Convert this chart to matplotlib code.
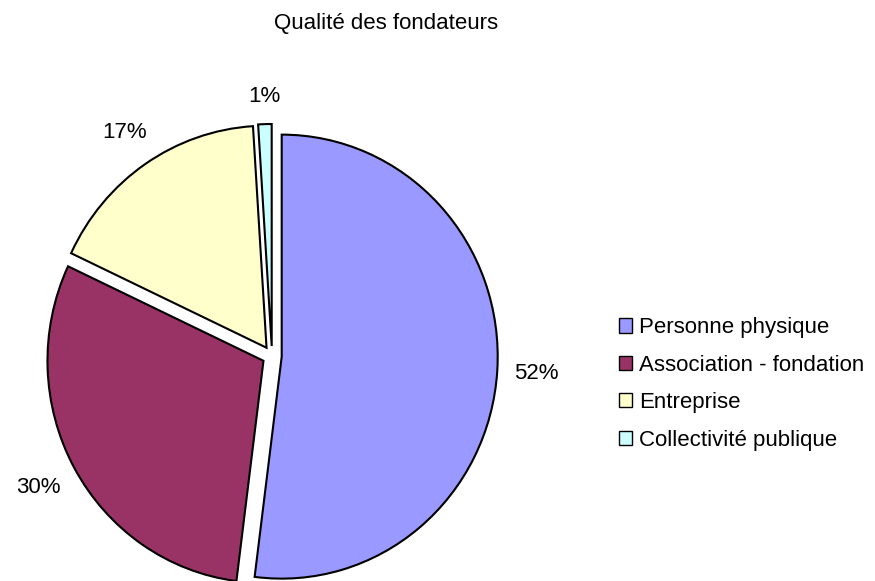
import matplotlib
matplotlib.use("Agg")
import numpy as np
import matplotlib.pyplot as plt
from matplotlib.patches import Patch

plt.rcParams['font.family'] = ['Liberation Sans', 'DejaVu Sans']

categories = ["Personne physique", "Association - fondation", "Entreprise", "Collectivité publique"]
values = [52, 30, 17, 1]
colors = ["#9999FF", "#993366", "#FFFFCC", "#CCFFFF"]
title = "Qualité des fondateurs"

FS = 16
fig = plt.figure(figsize=(8.75, 5.81), dpi=100)
W, H = 875, 581
cx, cy, rx, ry = 272, 356, 216, 222
lim = 1.3
ax = fig.add_axes([(cx - rx * lim) / W, (H - cy - ry * lim) / H,
                   2 * rx * lim / W, 2 * ry * lim / H])

wedges, texts, autotexts = ax.pie(
    values, colors=colors, startangle=90, counterclock=False,
    explode=[0.045] * len(values), autopct='%1.0f%%', pctdistance=1.2,
    wedgeprops=dict(edgecolor='black', linewidth=1.5),
    textprops=dict(fontsize=FS, color='black'))
ax.set_xlim(-lim, lim)
ax.set_ylim(-lim, lim)
ax.set_aspect('auto')
ax.set_axis_off()

# place percentage labels just outside each wedge, like the spreadsheet does
fig.canvas.draw()
renderer = fig.canvas.get_renderer()
gap = 1.075
for w, t in zip(wedges, autotexts):
    th = np.deg2rad((w.theta1 + w.theta2) / 2)
    bb = t.get_window_extent(renderer)
    hw = bb.width / 2 / rx
    hh = bb.height / 2 / ry
    d = gap + abs(np.cos(th)) * hw + abs(np.sin(th)) * hh
    ccx, ccy = w.center
    t.set_position((ccx + d * np.cos(th), ccy + d * np.sin(th)))
    t.set_ha('center')
    t.set_va('center')

fig.text(386 / W, 1 - 29 / H, title, ha='center', va='baseline', fontsize=FS)

handles = [Patch(facecolor=c, edgecolor='black', linewidth=1) for c in colors]
fig.legend(handles, categories, loc='center left', bbox_to_anchor=(619 / W, 1 - 384 / H),
           frameon=False, fontsize=FS, handlelength=0.6, handleheight=0.6,
           handletextpad=0.3, labelspacing=0.74, borderpad=0, borderaxespad=0)

fig.savefig("out.png", dpi=100)
